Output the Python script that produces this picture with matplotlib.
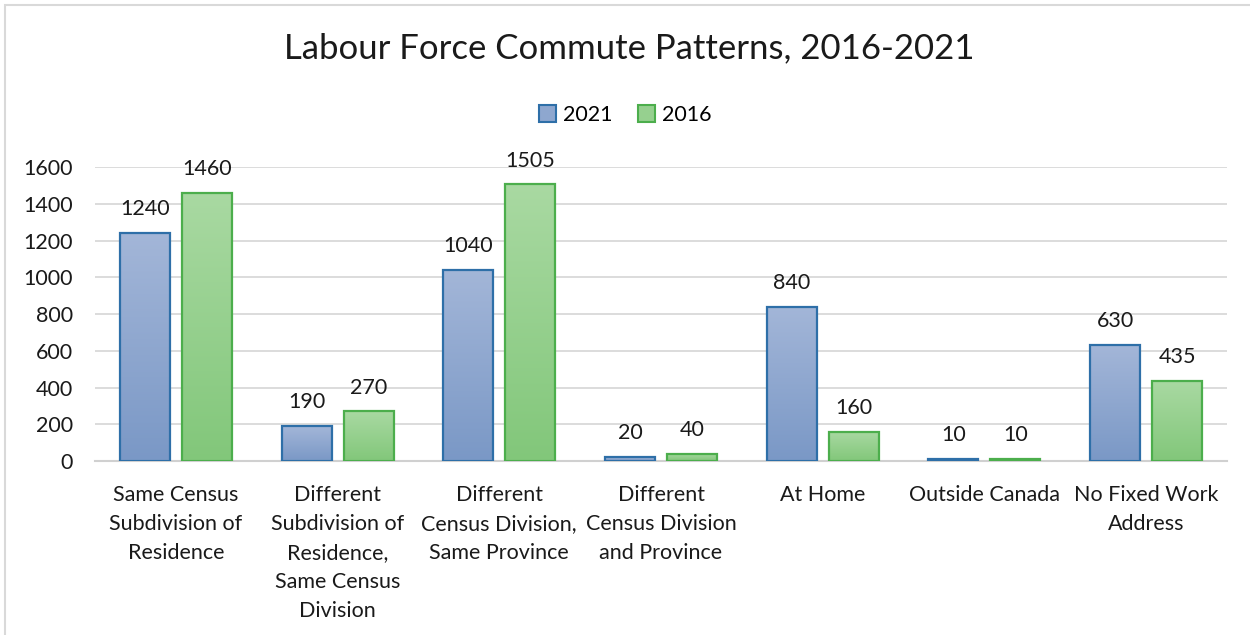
import matplotlib
matplotlib.use('Agg')
import matplotlib.pyplot as plt
import numpy as np
from matplotlib.colors import LinearSegmentedColormap
from matplotlib.patches import Rectangle, Patch

# datos
categories = ["Same Census\nSubdivision of\nResidence",
              "Different\nSubdivision of\nResidence,\nSame Census\nDivision",
              "Different\nCensus Division,\nSame Province",
              "Different\nCensus Division\nand Province",
              "At Home",
              "Outside Canada",
              "No Fixed Work\nAddress"]
values_2021 = [1240, 190, 1040, 20, 840, 10, 630]
values_2016 = [1460, 270, 1505, 40, 160, 10, 435]
series_names = ["2021", "2016"]
yticks = [0, 200, 400, 600, 800, 1000, 1200, 1400, 1600]

plt.rcParams['font.family'] = ['Lato', 'DejaVu Sans']
fs = 15.5

fig = plt.figure(figsize=(12.5, 6.35), dpi=100)
ax = fig.add_axes([0.076, 0.274, 0.9056, 0.463])

# colores con degradado (arriba claro, abajo oscuro)
blue_cmap = LinearSegmentedColormap.from_list('b', ['#7a98c6', '#a3b6d8'])
green_cmap = LinearSegmentedColormap.from_list('g', ['#82c77a', '#a9d9a2'])
edges = ['#2e6fa8', '#4cae4c']
cmaps = [blue_cmap, green_cmap]

x = np.arange(len(categories))
w = 0.309
gap = 0.074
offsets = [-(w + gap) / 2, (w + gap) / 2]
grad = np.linspace(0, 1, 256).reshape(-1, 1)

for vals, off, cm, ec in zip([values_2021, values_2016], offsets, cmaps, edges):
    bars = ax.bar(x + off, vals, width=w, facecolor='none', edgecolor=ec,
                  linewidth=1.6, zorder=3)
    for b, v in zip(bars, vals):
        x0 = b.get_x()
        ax.imshow(grad, cmap=cm, origin='lower', aspect='auto',
                  extent=[x0, x0 + w, 0, v], zorder=2)
        ax.annotate(str(v), (x0 + w / 2, v), xytext=(0, 10),
                    textcoords='offset points', ha='center', va='bottom',
                    fontsize=fs, color='#1a1a1a', zorder=4)

ax.set_xlim(-0.5, len(categories) - 0.5)
ax.set_ylim(0, 1600)
ax.set_yticks(yticks)
ax.set_xticks(x)
ax.set_xticklabels(categories, fontsize=fs, linespacing=1.57)
ax.tick_params(axis='both', length=0, labelsize=fs, colors='#1a1a1a')
ax.tick_params(axis='x', pad=17)
ax.tick_params(axis='y', pad=16)
ax.grid(axis='y', color='#d9d9d9', linewidth=1.3, zorder=0)
ax.set_axisbelow(True)
for s in ['top', 'right', 'left']:
    ax.spines[s].set_visible(False)
ax.spines['bottom'].set_color('#d0d0d0')
ax.spines['bottom'].set_linewidth(1.5)

fig.text(0.503, 0.924, 'Labour Force Commute Patterns, 2016-2021',
         ha='center', va='center', fontsize=25, color='#1a1a1a')

handles = [Patch(facecolor='#8ea7cf', edgecolor=edges[0], linewidth=1.5),
           Patch(facecolor='#96d08f', edgecolor=edges[1], linewidth=1.5)]
fig.legend(handles, series_names, loc='center', bbox_to_anchor=(0.5, 0.819),
           ncol=2, frameon=False, fontsize=fs, handlelength=0.8,
           handleheight=0.8, handletextpad=0.3, columnspacing=1.2)

# borde del gráfico
fig.patches.append(Rectangle((5 / 1250, -0.5), 2, 1.5 - 5 / 635,
                             transform=fig.transFigure, fill=False,
                             edgecolor='#d9d9d9', linewidth=1.5))

fig.savefig('out.png', dpi=100)
